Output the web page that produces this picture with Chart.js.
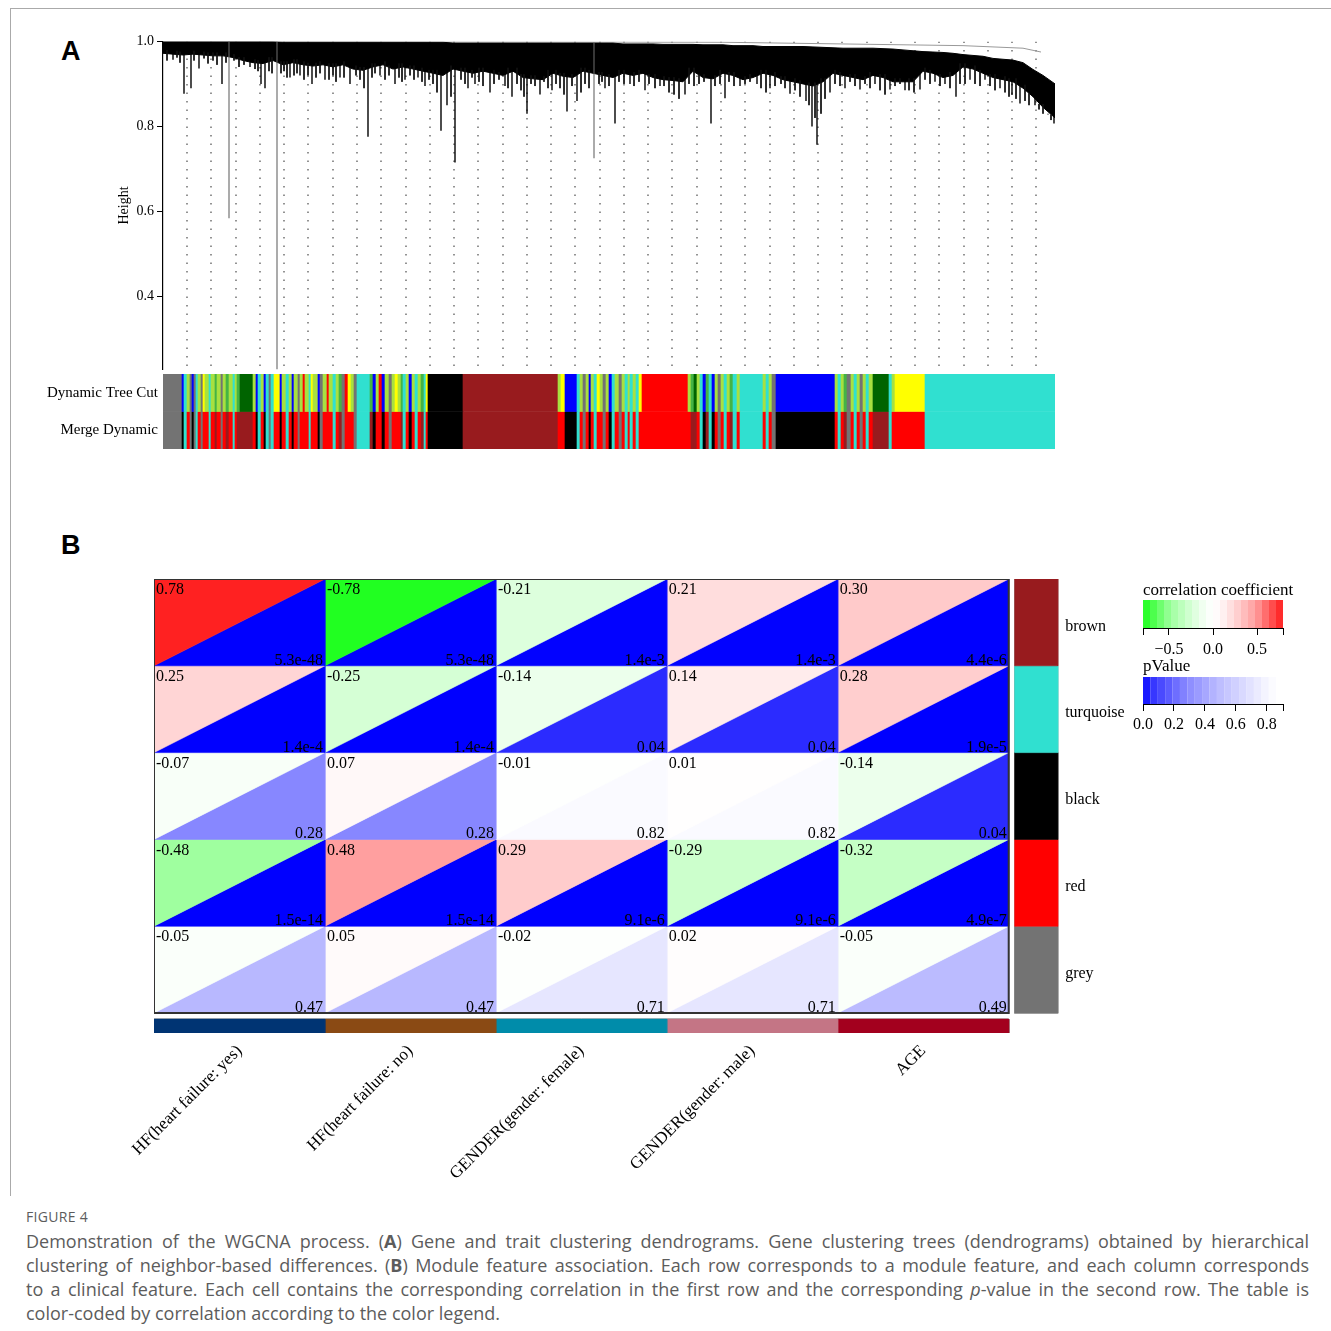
<!DOCTYPE html>
<html>
<head>
<meta charset="utf-8">
<script src="https://cdn.jsdelivr.net/npm/chart.js@4.4.0/dist/chart.umd.min.js"></script>
<style>
  body { margin: 0; background: #fff; width: 1331px; height: 1331px; position: relative; overflow: hidden; }
  canvas { position: absolute; }
  #frame { position: absolute; left: 10px; top: 8px; width: 1321px; height: 1187px; border-left: 1px solid #aaa; border-top: 1px solid #aaa; }
  .panel { position: absolute; font: bold 27px 'Liberation Sans', Arial, sans-serif; line-height: 27px; }
  .legtitle { position: absolute; font: 17px 'Liberation Serif', serif; line-height: 18px; white-space: nowrap; }
  #caption { position: absolute; left: 26px; top: 1209px; width: 1283px; font-family: 'Open Sans', sans-serif; color: #5c5c5c; }
  #caption .fig { font-size: 14px; line-height: 16px; height: 20px; letter-spacing: 0.3px; }
  #caption .ln { font-size: 18px; line-height: 24px; white-space: nowrap; }
  #caption .j { text-align: justify; text-align-last: justify; }
</style>
</head>
<body>
<div id="frame"></div>
<div class="panel" style="left:61px;top:38px">A</div>
<div class="panel" style="left:61px;top:532px">B</div>
<canvas id="dendro" width="952" height="351" style="left:108px;top:30px"></canvas>
<canvas id="colors" width="1060" height="103" style="left:0;top:360px"></canvas>
<canvas id="heat" width="1331" height="640" style="left:0;top:560px"></canvas>
<div class="legtitle" style="left:1143px;top:581px">correlation coefficient</div>
<canvas id="corrLeg" width="231" height="64" style="left:1100px;top:596px"></canvas>
<div class="legtitle" style="left:1143px;top:657px">pValue</div>
<canvas id="pLeg" width="231" height="64" style="left:1100px;top:673px"></canvas>
<div id="caption">
  <div class="fig">FIGURE 4</div>
  <div class="ln j">Demonstration of the WGCNA process. (<b>A</b>) Gene and trait clustering dendrograms. Gene clustering trees (dendrograms) obtained by hierarchical</div>
  <div class="ln j">clustering of neighbor-based differences. (<b>B</b>) Module feature association. Each row corresponds to a module feature, and each column corresponds</div>
  <div class="ln j">to a clinical feature. Each cell contains the corresponding correlation in the first row and the corresponding <i>p</i>-value in the second row. The table is</div>
  <div class="ln">color-coded by correlation according to the color legend.</div>
</div>
<script>
// ---------- panel A data ----------
const geneRange = [0, 892];          // gene order along the tree
const heightRange = [0.228, 1.0];
const heightTicks = [0.4, 0.6, 0.8, 1.0];

// upper and lower edge of the dense part of the tree, one value every 10 genes
const bandTop = [
  0.999,0.999,0.999,0.999,0.999,0.999,0.999,0.999,0.999,0.999,
  0.999,0.999,0.998,0.998,0.998,0.998,0.998,0.998,0.998,0.998,
  0.998,0.998,0.998,0.998,0.998,0.998,0.998,0.998,0.998,0.996,
  0.996,0.996,0.996,0.996,0.996,0.996,0.996,0.996,0.996,0.996,
  0.996,0.996,0.996,0.996,0.996,0.996,0.994,0.994,0.994,0.994,
  0.993,0.993,0.993,0.993,0.992,0.992,0.992,0.990,0.990,0.990,
  0.988,0.988,0.988,0.988,0.988,0.987,0.986,0.985,0.984,0.984,
  0.984,0.984,0.983,0.982,0.980,0.978,0.976,0.975,0.974,0.972,
  0.969,0.967,0.965,0.960,0.958,0.956,0.950,0.934,0.920,0.900
];
const bandBottom = [
  0.972,0.970,0.968,0.970,0.968,0.966,0.966,0.962,0.955,0.950,
  0.948,0.955,0.945,0.950,0.945,0.942,0.945,0.940,0.945,0.935,
  0.932,0.940,0.945,0.935,0.940,0.935,0.930,0.925,0.920,0.935,
  0.930,0.925,0.930,0.925,0.920,0.930,0.915,0.912,0.910,0.925,
  0.918,0.915,0.930,0.925,0.920,0.915,0.925,0.920,0.925,0.915,
  0.910,0.908,0.905,0.930,0.915,0.912,0.925,0.920,0.910,0.915,
  0.925,0.920,0.910,0.905,0.900,0.895,0.905,0.925,0.920,0.915,
  0.910,0.920,0.915,0.905,0.905,0.905,0.930,0.925,0.915,0.920,
  0.940,0.935,0.925,0.915,0.910,0.905,0.890,0.870,0.845,0.820
];
// single branches hanging below the dense part: [gene position, lowest height]
const branchTips = [
  [10,0.957],[21,0.877],[28,0.89],[36,0.936],[59,0.90],[87,0.94],[98,0.90],[102,0.89],
  [127,0.915],[137,0.92],[149,0.90],[162,0.91],[177,0.915],[187,0.90],[205,0.776],[217,0.92],
  [232,0.90],[242,0.91],[255,0.915],[262,0.895],[278,0.79],[284,0.85],[292,0.715],[305,0.89],
  [312,0.90],[327,0.88],[342,0.895],[349,0.87],[364,0.83],[377,0.875],[389,0.885],[404,0.835],
  [414,0.86],[442,0.89],[452,0.807],[467,0.90],[482,0.885],[497,0.895],[522,0.875],[548,0.807],
  [562,0.866],[577,0.895],[594,0.90],[607,0.89],[627,0.877],[643,0.86],[649,0.80],[654,0.757],
  [667,0.88],[682,0.89],[697,0.887],[712,0.90],[727,0.887],[742,0.885],[757,0.887],[772,0.905],
  [782,0.90],[793,0.87],[807,0.91],[822,0.91],[837,0.89],[849,0.874],[857,0.854],[872,0.85],
  [885,0.83],[891,0.807]
];
// short hairs along the lower edge of the dense part
const shortBranches = [
  [4,0.955],[14,0.962],[17,0.95],[31,0.955],[41,0.96],[45,0.948],[50,0.955],[54,0.945],
  [63,0.95],[71,0.955],[76,0.94],[81,0.945],[92,0.935],[95,0.93],[106,0.93],[109,0.925],
  [118,0.925],[121,0.93],[124,0.915],[131,0.92],[134,0.925],[141,0.91],[145,0.92],[153,0.915],
  [157,0.925],[166,0.91],[170,0.92],[173,0.905],[181,0.915],[193,0.92],[197,0.91],[201,0.89],
  [209,0.915],[212,0.925],[222,0.91],[226,0.92],[236,0.915],[239,0.905],[247,0.92],[251,0.91],
  [259,0.905],[266,0.91],[270,0.90],[274,0.88],[288,0.87],[298,0.91],[302,0.90],[309,0.915],
  [316,0.905],[320,0.895],[331,0.90],[336,0.91],[345,0.89],[354,0.90],[358,0.885],[361,0.87],
  [368,0.90],[372,0.895],[381,0.905],[385,0.89],[393,0.90],[397,0.89],[401,0.875],[409,0.895],
  [418,0.88],[422,0.90],[426,0.89],[436,0.90],[439,0.905],[446,0.895],[456,0.905],[461,0.90],
  [471,0.895],[476,0.905],[486,0.90],[492,0.89],[501,0.895],[506,0.88],[511,0.875],[516,0.865],
  [526,0.90],[531,0.895],[536,0.90],[541,0.905],[552,0.895],[557,0.90],[566,0.905],[571,0.895],
  [582,0.90],[587,0.905],[598,0.89],[603,0.88],[612,0.895],[618,0.90],[622,0.89],[632,0.885],
  [637,0.87],[646,0.85],[652,0.82],[658,0.83],[662,0.865],[672,0.90],[677,0.895],[687,0.905],
  [692,0.895],[702,0.90],[707,0.89],[717,0.885],[722,0.875],[732,0.895],[737,0.90],[746,0.885],
  [751,0.88],[762,0.91],[767,0.90],[777,0.895],[787,0.89],[797,0.90],[802,0.90],[812,0.90],
  [817,0.895],[827,0.895],[832,0.885],[842,0.88],[846,0.87],[853,0.865],[862,0.86],[866,0.85],
  [876,0.84],[880,0.83],[888,0.815]
];
// long single-gene branches (drawn thin and grey)
const longBranches = [[66,0.584],[114,0.228],[431,0.725]];
// uppermost merge line of the tree
const topMerge = [[0,0.9995],[560,0.998],[800,0.990],[860,0.984],[878,0.975]];
// guide lines
const guideGenes = [24,48,73,97,121,145,170,194,218,243,267,291,315,340,364,388,412,437,
  461,485,509,534,558,582,607,631,655,679,704,728,752,776,801,825,849,873];

// module colour rows: [start gene, module] (each runs to the next start)
const colorRows = ['Dynamic Tree Cut', 'Merge Dynamic'];
const dynamicModules = [
  [0,'grey'],[19,'blue'],[21,'turquoise'],[24,'greenyellow'],[27,'grey'],[29,'blue'],[31,'grey'],
  [33,'turquoise'],[35,'greenyellow'],[38,'grey'],[40,'yellow'],[42,'greenyellow'],[46,'turquoise'],
  [48,'greenyellow'],[52,'green'],[54,'greenyellow'],[58,'grey'],[60,'greenyellow'],[63,'green'],
  [66,'greenyellow'],[70,'turquoise'],[72,'greenyellow'],[74,'green'],[77,'darkgreen'],[90,'greenyellow'],
  [93,'blue'],[95,'turquoise'],[98,'greenyellow'],[101,'blue'],[103,'turquoise'],[106,'grey'],
  [108,'turquoise'],[111,'yellow'],[117,'blue'],[119,'greenyellow'],[123,'turquoise'],[126,'greenyellow'],
  [129,'blue'],[131,'greenyellow'],[135,'grey'],[137,'greenyellow'],[140,'red'],[142,'greenyellow'],
  [146,'turquoise'],[148,'yellow'],[150,'greenyellow'],[155,'blue'],[157,'grey'],[160,'greenyellow'],
  [164,'red'],[166,'greenyellow'],[170,'turquoise'],[173,'greenyellow'],[176,'green'],[179,'grey'],
  [182,'red'],[185,'yellow'],[188,'greenyellow'],[191,'grey'],[194,'turquoise'],[207,'green'],
  [210,'blue'],[213,'greenyellow'],[216,'red'],[219,'blue'],[222,'greenyellow'],[226,'grey'],
  [229,'greenyellow'],[232,'yellow'],[235,'greenyellow'],[238,'green'],[240,'turquoise'],
  [243,'greenyellow'],[246,'blue'],[249,'greenyellow'],[252,'turquoise'],[255,'greenyellow'],
  [258,'green'],[261,'turquoise'],[263,'yellow'],[265,'black'],[300,'brown'],[395,'greenyellow'],
  [398,'yellow'],[402,'blue'],[414,'turquoise'],[417,'greenyellow'],[420,'grey'],[423,'greenyellow'],
  [426,'blue'],[428,'greenyellow'],[431,'turquoise'],[434,'yellow'],[437,'greenyellow'],[440,'grey'],
  [443,'greenyellow'],[446,'blue'],[449,'turquoise'],[452,'greenyellow'],[456,'grey'],[459,'greenyellow'],
  [462,'turquoise'],[465,'greenyellow'],[467,'turquoise'],[470,'greenyellow'],[473,'turquoise'],
  [476,'yellow'],[479,'red'],[525,'greenyellow'],[528,'green'],[531,'darkgreen'],[534,'greenyellow'],
  [537,'turquoise'],[540,'blue'],[543,'green'],[546,'turquoise'],[549,'blue'],[552,'greenyellow'],
  [555,'grey'],[558,'greenyellow'],[561,'turquoise'],[564,'greenyellow'],[567,'green'],[570,'turquoise'],
  [574,'greenyellow'],[577,'turquoise'],[600,'greenyellow'],[603,'turquoise'],[606,'greenyellow'],
  [609,'grey'],[613,'blue'],[672,'greenyellow'],[675,'turquoise'],[678,'greenyellow'],[681,'green'],
  [684,'grey'],[688,'greenyellow'],[691,'turquoise'],[694,'greenyellow'],[697,'grey'],[700,'greenyellow'],
  [703,'turquoise'],[706,'greenyellow'],[710,'darkgreen'],[726,'turquoise'],[729,'greenyellow'],
  [732,'yellow'],[762,'turquoise']
];
// which module each dynamic module was merged into
const mergedInto = {
  grey: 'grey', blue: 'black', turquoise: 'turquoise', greenyellow: 'red', green: 'brown',
  darkgreen: 'brown', yellow: 'red', red: 'red', black: 'black', brown: 'brown'
};

// ---------- panel B data ----------
const modules = ['brown', 'turquoise', 'black', 'red', 'grey'];
const traits = ['HF(heart failure: yes)', 'HF(heart failure: no)', 'GENDER(gender: female)',
                'GENDER(gender: male)', 'AGE'];
const corr = [
  [0.78, -0.78, -0.21, 0.21, 0.30],
  [0.25, -0.25, -0.14, 0.14, 0.28],
  [-0.07, 0.07, -0.01, 0.01, -0.14],
  [-0.48, 0.48, 0.29, -0.29, -0.32],
  [-0.05, 0.05, -0.02, 0.02, -0.05]
];
const pText = [
  ['5.3e-48', '5.3e-48', '1.4e-3', '1.4e-3', '4.4e-6'],
  ['1.4e-4', '1.4e-4', '0.04', '0.04', '1.9e-5'],
  ['0.28', '0.28', '0.82', '0.82', '0.04'],
  ['1.5e-14', '1.5e-14', '9.1e-6', '9.1e-6', '4.9e-7'],
  ['0.47', '0.47', '0.71', '0.71', '0.49']
];
const corrTicks = [-0.795, -0.5, 0, 0.5, 0.795];
const corrTickLabels = ['', '\u22120.5', '0.0', '0.5', ''];
const pTicks = [0, 0.2, 0.4, 0.6, 0.8, 0.905];
const pTickLabels = ['0.0', '0.2', '0.4', '0.6', '0.8', ''];

// ---------- styles ----------
const moduleColor = {
  grey: '#737373', turquoise: '#30e0d0', blue: '#0000ff', brown: '#981b1e', yellow: '#ffff00',
  green: '#44b444', greenyellow: '#a8e040', red: '#ff0000', black: '#000000', darkgreen: '#006400'
};
const traitColor = ['#003473', '#8a4a14', '#008caa', '#c47585', '#a3001e'];
const corrRamp = [[0,0],[0.07,0.027],[0.14,0.075],[0.25,0.165],[0.29,0.2],[0.48,0.376],[0.78,0.87],[0.8,0.9]];
const pRamp = [[0,0],[0.04,0.17],[0.28,0.53],[0.47,0.72],[0.71,0.9],[0.82,0.98],[0.9,1]];

function ramp(stops, v) {
  if (v <= stops[0][0]) return stops[0][1];
  for (let i = 1; i < stops.length; i++) {
    if (v <= stops[i][0]) {
      const [x0, y0] = stops[i - 1], [x1, y1] = stops[i];
      return y0 + (y1 - y0) * (v - x0) / (x1 - x0);
    }
  }
  return stops[stops.length - 1][1];
}
function corrColor(r) {
  const c = Math.round(255 * (1 - ramp(corrRamp, Math.abs(r))));
  return r >= 0 ? `rgb(255,${c},${c})` : `rgb(${c},255,${c})`;
}
function pColor(p) {
  const c = Math.round(255 * ramp(pRamp, p));
  return `rgb(${c},${c},255)`;
}

Chart.defaults.font.family = "'Liberation Serif', 'Times New Roman', serif";
Chart.defaults.color = '#000';
Chart.defaults.animation = false;
Chart.defaults.plugins.legend.display = false;
Chart.defaults.plugins.tooltip.enabled = false;
Chart.defaults.elements.point.radius = 0;

// closed shape through points, filled
function shape(points, color, extra) {
  return Object.assign({
    data: points.map(([x, y]) => ({ x, y })),
    fill: 'shape', backgroundColor: color, borderColor: color, borderWidth: 0.6, tension: 0
  }, extra || {});
}
function rect(x0, x1, y0, y1, color, extra) {
  return shape([[x0, y0], [x1, y0], [x1, y1], [x0, y1], [x0, y0]], color, extra);
}
// vertical segments, broken by gaps
function verticals(list, topFn) {
  const pts = [];
  list.forEach(([x, low]) => {
    pts.push({ x, y: topFn(x) }, { x, y: low }, { x, y: null });
  });
  return pts;
}

// ---------- panel A: dendrogram ----------
const bandX = bandTop.map((_, i) => (i < bandTop.length - 1 ? i * 10 : geneRange[1]));
const bandShape = bandX.map((x, i) => [x, bandTop[i]])
  .concat(bandX.map((x, i) => [x, bandBottom[i]]).reverse());
const nearestBand = (arr, x) => arr[Math.min(arr.length - 1, Math.round(x / 10))];

new Chart(document.getElementById('dendro'), {
  type: 'line',
  data: {
    datasets: [
      { data: verticals(branchTips, x => nearestBand(bandBottom, x) + 0.008), borderColor: '#000',
        borderWidth: 1.4, spanGaps: false },
      { data: verticals(shortBranches, x => nearestBand(bandBottom, x) + 0.008), borderColor: '#111',
        borderWidth: 1, spanGaps: false },
      { data: verticals(longBranches, x => nearestBand(bandTop, x)), borderColor: '#666',
        borderWidth: 1.1, spanGaps: false },
      shape(bandShape, '#000', { borderWidth: 1 }),
      { data: topMerge.map(([x, y]) => ({ x, y })), borderColor: '#999', borderWidth: 1 },
      { data: verticals(guideGenes.map(g => [g, heightRange[0]]), () => heightRange[1]),
        borderColor: '#666', borderWidth: 1.4, borderDash: [1.5, 7], spanGaps: false }
    ]
  },
  options: {
    responsive: false,
    layout: { padding: { top: 10, right: 5, bottom: 2, left: 0 } },
    scales: {
      x: { type: 'linear', min: geneRange[0], max: geneRange[1], display: false },
      y: {
        type: 'linear', min: heightRange[0], max: heightRange[1],
        afterBuildTicks: s => { s.ticks = heightTicks.map(v => ({ value: v })); },
        afterFit: s => { s.width = 55; },
        ticks: { callback: v => v.toFixed(1), font: { size: 14 }, padding: 3 },
        grid: { drawOnChartArea: false, drawTicks: true, tickLength: 6, color: '#000' },
        border: { display: true, color: '#000', width: 1.2 },
        title: { display: true, text: 'Height', font: { size: 14 }, padding: { top: 8, bottom: 0 } }
      }
    }
  }
});

// ---------- panel A: module colour rows ----------
function rowBars(list, row, mapFn) {
  return list.map(([start, m], i) => {
    const end = i < list.length - 1 ? list[i + 1][0] : geneRange[1];
    return { x: [start, end], y: row, m: mapFn(m) };
  });
}
const dynBars = rowBars(dynamicModules, colorRows[0], m => m);
const mergeBars = rowBars(dynamicModules, colorRows[1], m => mergedInto[m]);

new Chart(document.getElementById('colors'), {
  type: 'bar',
  data: {
    labels: colorRows,
    datasets: [dynBars, mergeBars].map(bars => ({
      data: bars, backgroundColor: bars.map(b => moduleColor[b.m]), grouped: false,
      barPercentage: 1, categoryPercentage: 1, borderWidth: 0
    }))
  },
  options: {
    responsive: false, indexAxis: 'y',
    layout: { padding: { top: 0, right: 5, bottom: 0, left: 0 } },
    scales: {
      x: { type: 'linear', min: geneRange[0], max: geneRange[1], display: false },
      y: {
        afterFit: s => { s.width = 163; },
        ticks: { font: { size: 15 }, padding: 5 },
        grid: { display: false, drawTicks: false, tickLength: 0 }, border: { display: false }
      }
    }
  }
});

// ---------- panel B: module-trait heatmap ----------
const nRows = modules.length, nCols = traits.length;
const traitBarY = [5.07, 5.23];
const moduleBarX = [5.035, 5.287];
const moduleLabelX = 5.33;

const heatSets = [];
heatSets.push(rect(0, nCols, 0, nRows, 'rgba(0,0,0,0)', { fill: false, borderColor: '#333', borderWidth: 2 }));
for (let i = 0; i < nRows; i++) {
  for (let j = 0; j < nCols; j++) {
    heatSets.push(shape([[j, i + 1], [j, i], [j + 1, i], [j, i + 1]], corrColor(corr[i][j])));
    heatSets.push(shape([[j, i + 1], [j + 1, i], [j + 1, i + 1], [j, i + 1]], pColor(parseFloat(pText[i][j]))));
  }
  heatSets.push(rect(moduleBarX[0], moduleBarX[1], i, i + 1, moduleColor[modules[i]]));
}
heatSets.push(rect(moduleBarX[0], moduleBarX[1], 0, nRows, 'rgba(0,0,0,0)', { fill: false, borderColor: '#999', borderWidth: 1.2 }));
traits.forEach((t, j) => heatSets.push(rect(j, j + 1, traitBarY[0], traitBarY[1], traitColor[j])));
heatSets.push(rect(0, nCols, traitBarY[0], traitBarY[1], 'rgba(0,0,0,0)', { fill: false, borderColor: '#555', borderWidth: 1 }));

const cellText = {
  id: 'cellText',
  afterDatasetsDraw(chart) {
    const { ctx, scales: { x, y } } = chart;
    ctx.save();
    ctx.font = "16px 'Liberation Serif'";
    ctx.fillStyle = '#000';
    for (let i = 0; i < nRows; i++) {
      for (let j = 0; j < nCols; j++) {
        const x0 = x.getPixelForValue(j), x1 = x.getPixelForValue(j + 1);
        const y0 = y.getPixelForValue(i), y1 = y.getPixelForValue(i + 1);
        ctx.textAlign = 'left'; ctx.textBaseline = 'top';
        ctx.fillText(corr[i][j].toFixed(2), x0 + 2, y0 + 3);
        ctx.textAlign = 'right'; ctx.textBaseline = 'alphabetic';
        ctx.fillText(pText[i][j], x1 - 2, y1 - 1);
      }
      ctx.textAlign = 'left'; ctx.textBaseline = 'middle';
      ctx.fillText(modules[i], x.getPixelForValue(moduleLabelX), y.getPixelForValue(i + 0.5) + 4);
    }
    ctx.restore();
  }
};

new Chart(document.getElementById('heat'), {
  type: 'line',
  data: { datasets: heatSets },
  options: {
    responsive: false,
    layout: { padding: { top: 19, right: 271, bottom: 0, left: 154 } },
    scales: {
      x: {
        type: 'linear', min: 0, max: 5.3,
        afterBuildTicks: s => { s.ticks = traits.map((t, j) => ({ value: j + 0.5 })); },
        afterFit: s => { s.height = 167; },
        ticks: { autoSkip: false, minRotation: 45, maxRotation: 45, padding: 8,
                 font: { size: 17 }, callback: (v, i) => traits[i] },
        grid: { display: false, drawTicks: false }, border: { display: false }
      },
      y: { type: 'linear', min: 0, max: traitBarY[1], reverse: true, display: false }
    }
  },
  plugins: [cellText]
});

// ---------- colour legends ----------
function legend(id, lo, hi, max, steps, colorFn, ticks, labels, axisH, pad) {
  const sets = [];
  for (let k = 0; k < steps; k++) {
    const a = lo + (hi - lo) * k / steps, b = lo + (hi - lo) * (k + 1) / steps;
    sets.push(rect(a, b, 0, 1, colorFn((a + b) / 2), { borderWidth: 0 }));
  }
  new Chart(document.getElementById(id), {
    type: 'line',
    data: { datasets: sets },
    options: {
      responsive: false,
      layout: { padding: { top: 4, right: 48, bottom: 0, left: 43 } },
      scales: {
        x: {
          type: 'linear', min: ticks[0], max: max,
          afterBuildTicks: s => { s.ticks = ticks.map(v => ({ value: v })); },
          afterFit: s => { s.height = axisH; },
          ticks: { autoSkip: false, maxRotation: 0, padding: pad, font: { size: 16 },
                   callback: (v, i) => labels[i] },
          grid: { drawOnChartArea: false, drawTicks: true, tickLength: 7, color: '#000' },
          border: { display: true, color: '#000' }
        },
        y: { type: 'linear', min: 0, max: 1, display: false }
      }
    }
  });
}
legend('corrLeg', -0.795, 0.795, 0.795, 20, corrColor, corrTicks, corrTickLabels, 32, 5);
legend('pLeg', 0, 0.86, 0.905, 18, pColor, pTicks, pTickLabels, 33, 4);
</script>
</body>
</html>
